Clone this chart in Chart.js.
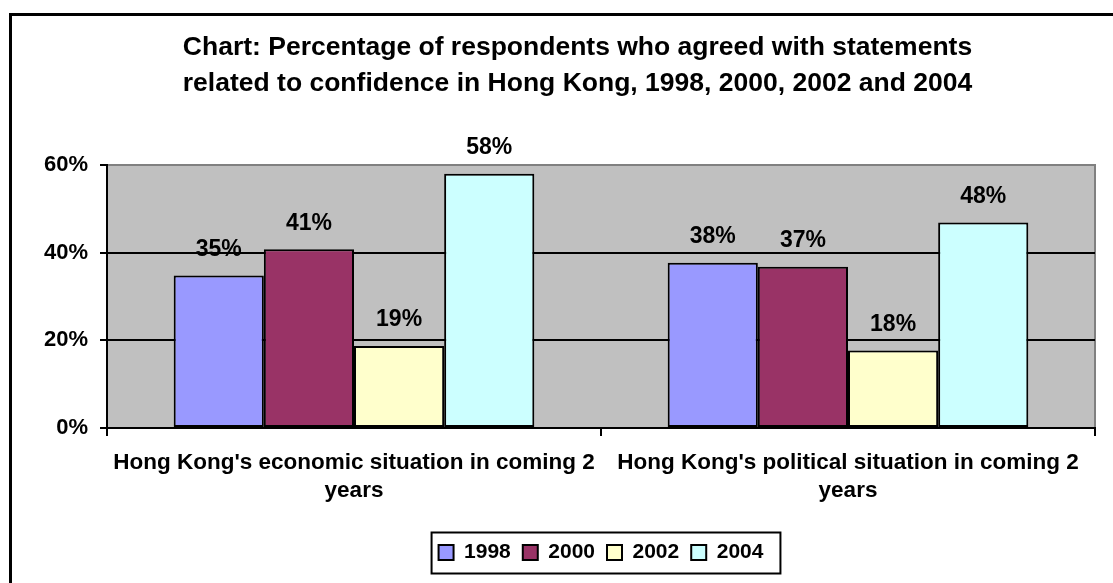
<!DOCTYPE html>
<html>
<head>
<meta charset="utf-8">
<script src="https://cdn.jsdelivr.net/npm/chart.js@4.4.1/dist/chart.umd.min.js"></script>
<style>
  html, body { margin: 0; padding: 0; background: #fff; }
  #frame {
    position: absolute; left: 9px; top: 13px;
    width: 1200px; height: 700px;
    border-left: 3px solid #000; border-top: 3px solid #000;
  }
  #wrap { position: absolute; left: 0; top: 0; width: 1113px; height: 583px; }
</style>
</head>
<body>
<div id="frame"></div>
<div id="wrap"><canvas id="chart" width="1113" height="583"></canvas></div>
<script>
// categories
const categories = [
  ["Hong Kong's economic situation in coming 2", 'years'],
  ["Hong Kong's political situation in coming 2", 'years']
];

// bar heights (percent)
const series1998 = [34.8, 37.7];
const series2000 = [40.8, 36.8];
const series2002 = [18.7, 17.7];
const series2004 = [58.0, 46.9];

// values printed above the bars
const printed1998 = [35, 38];
const printed2000 = [41, 37];
const printed2002 = [19, 18];
const printed2004 = [58, 48];

// y axis ticks
const yTicks = [0, 20, 40, 60];

const FONT = 'Arial, "Liberation Sans", sans-serif';

// gray plot area with darker top/right edge
const plotBackground = {
  id: 'plotBackground',
  beforeDraw(chart) {
    const { ctx, chartArea: a } = chart;
    ctx.save();
    ctx.fillStyle = '#C0C0C0';
    ctx.fillRect(a.left, a.top, a.right - a.left, a.bottom - a.top);
    ctx.strokeStyle = '#808080';
    ctx.lineWidth = 2;
    ctx.beginPath();
    ctx.moveTo(a.left, a.top);
    ctx.lineTo(a.right, a.top);
    ctx.lineTo(a.right, a.bottom);
    ctx.stroke();
    ctx.restore();
  }
};

// value labels above each bar
const valueLabels = {
  id: 'valueLabels',
  afterDatasetsDraw(chart) {
    const { ctx } = chart;
    ctx.save();
    ctx.font = 'bold 23px ' + FONT;
    ctx.fillStyle = '#000';
    ctx.textAlign = 'center';
    ctx.textBaseline = 'middle';
    chart.data.datasets.forEach((ds, i) => {
      chart.getDatasetMeta(i).data.forEach((bar, j) => {
        ctx.fillText(ds.printed[j] + '%', bar.x, bar.y - 26);
      });
    });
    ctx.restore();
  }
};

// border round the legend
const legendBorder = {
  id: 'legendBorder',
  afterDraw(chart) {
    const boxes = chart.legend.legendHitBoxes;
    if (!boxes || !boxes.length) return;
    const first = boxes[0];
    const last = boxes[boxes.length - 1];
    const cy = first.top + first.height / 2;
    const { ctx } = chart;
    ctx.save();
    ctx.strokeStyle = '#000';
    ctx.lineWidth = 2;
    ctx.strokeRect(first.left - 7, cy - 20, last.left + last.width + 17 - (first.left - 7), 41);
    ctx.restore();
  }
};

new Chart(document.getElementById('chart'), {
  type: 'bar',
  data: {
    labels: categories,
    datasets: [
      { label: '1998', data: series1998, printed: printed1998, backgroundColor: '#9999FF' },
      { label: '2000', data: series2000, printed: printed2000, backgroundColor: '#993366' },
      { label: '2002', data: series2002, printed: printed2002, backgroundColor: '#FFFFCC' },
      { label: '2004', data: series2004, printed: printed2004, backgroundColor: '#CCFFFF' }
    ].map((d) => ({
      ...d,
      borderColor: '#000',
      borderWidth: 2,
      borderSkipped: false,
      categoryPercentage: 0.73,
      barPercentage: 1
    }))
  },
  options: {
    responsive: false,
    animation: false,
    events: [],
    layout: { padding: { left: 42, right: 0, top: 0, bottom: 10 } },
    plugins: {
      title: {
        display: true,
        text: [
          'Chart: Percentage of respondents who agreed with statements',
          'related to confidence in Hong Kong, 1998, 2000, 2002 and 2004'
        ],
        color: '#000',
        font: { family: FONT, size: 26.5, weight: 'bold', lineHeight: 36 / 26.5 },
        padding: { top: 30, bottom: 63 }
      },
      legend: {
        position: 'bottom',
        fullSize: false,
        labels: {
          color: '#000',
          font: { family: FONT, size: 21, weight: 'bold' },
          boxWidth: 15,
          boxHeight: 15,
          padding: 12
        }
      },
      tooltip: { enabled: false }
    },
    scales: {
      x: {
        offset: true,
        border: { color: '#000', width: 2 },
        grid: {
          offset: true,
          drawOnChartArea: false,
          drawTicks: true,
          tickLength: 8,
          color: '#000',
          lineWidth: 2
        },
        ticks: {
          color: '#000',
          maxRotation: 0,
          autoSkip: false,
          padding: 13,
          font: { family: FONT, size: 22.5, weight: 'bold', lineHeight: 28 / 22.5 }
        },
        afterFit(scale) { scale.height = 102; }
      },
      y: {
        min: 0,
        max: 60,
        afterBuildTicks(scale) { scale.ticks = yTicks.map((v) => ({ value: v })); },
        border: { color: '#000', width: 2 },
        grid: {
          color: (c) => (c.tick && c.tick.value === 60 ? '#808080' : '#000'),
          tickColor: '#000',
          lineWidth: 2,
          tickLength: 7
        },
        ticks: {
          color: '#000',
          padding: 12,
          font: { family: FONT, size: 22, weight: 'bold' },
          callback: (v) => v + '%'
        },
        afterFit(scale) { scale.width = 107 - 42; }
      },
      // empty right-hand margin so the plot ends where the reference's does
      yRight: {
        position: 'right',
        display: true,
        grid: { display: false },
        border: { display: false },
        ticks: { display: false },
        afterFit(scale) { scale.width = 18; }
      }
    }
  },
  plugins: [plotBackground, valueLabels, legendBorder]
});
</script>
</body>
</html>
